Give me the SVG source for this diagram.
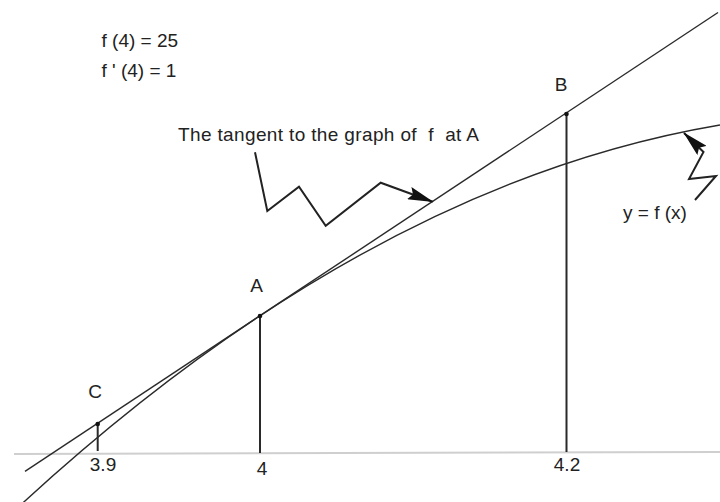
<svg xmlns="http://www.w3.org/2000/svg" width="720" height="502" viewBox="0 0 720 502">
<style>
text{font-family:"Liberation Sans",Arial,sans-serif;font-size:19px;fill:#222}
.c{text-anchor:middle}
.ln{fill:none;stroke:#2a2a2a;stroke-width:1.4}
.v{fill:none;stroke:#2a2a2a;stroke-width:2}
.z{fill:none;stroke:#222;stroke-width:2;stroke-linejoin:miter}
.dot{fill:#111}
</style>
<defs>
<marker id="ah" viewBox="0 0 26 13" refX="25" refY="6.5" markerWidth="26" markerHeight="13" markerUnits="userSpaceOnUse" orient="auto">
<path d="M0,0 L26,6.5 L0,13 L4,6.5 z" fill="#111"/>
</marker>
</defs>
<rect width="720" height="502" fill="#fff"/>
<g id="axis">
<line x1="14" y1="454" x2="720" y2="452" stroke="#cfcfcf" stroke-width="2"/>
</g>
<g id="connectors">
<line class="ln" x1="25" y1="471.3" x2="718" y2="12.5"/>
<path class="ln" d="M23 502.8 Q370.5 184.1 720 125"/>
<line class="v" x1="97.7" y1="424" x2="97.7" y2="451"/>
<line class="v" x1="260" y1="316" x2="260" y2="453"/>
<line class="v" x1="566.5" y1="114" x2="566.5" y2="452"/>
<polyline class="z" points="255,152.3 267.3,211 299,186.7 325.7,225.7 380.7,182.7 432.7,201.7" marker-end="url(#ah)"/>
<polyline class="z" points="695,200 716,176 689,179 703.5,152 684,133" marker-end="url(#ah)"/>
</g>
<g id="info">
<text x="101.5" y="47">f (4) = 25</text>
<text x="101.5" y="76.5">f ' (4) = 1</text>
</g>
<g id="tangent-label">
<text x="178" y="141" xml:space="preserve" textLength="301" lengthAdjust="spacing">The tangent to the graph of  f  at A</text>
</g>
<g id="curve-label">
<text x="623" y="219">y = f (x)</text>
</g>
<g id="point-A">
<circle class="dot" cx="260" cy="316" r="2.3"/>
<text class="c" x="256.5" y="291.5">A</text>
</g>
<g id="point-B">
<circle class="dot" cx="566.5" cy="114" r="2.3"/>
<text class="c" x="561" y="90.5">B</text>
</g>
<g id="point-C">
<circle class="dot" cx="97.7" cy="424" r="2.3"/>
<text class="c" x="95" y="397.5">C</text>
</g>
<g id="ticks">
<text class="c" x="103" y="471">3.9</text>
<text class="c" x="262" y="475">4</text>
<text class="c" x="567" y="471">4.2</text>
</g>
</svg>
